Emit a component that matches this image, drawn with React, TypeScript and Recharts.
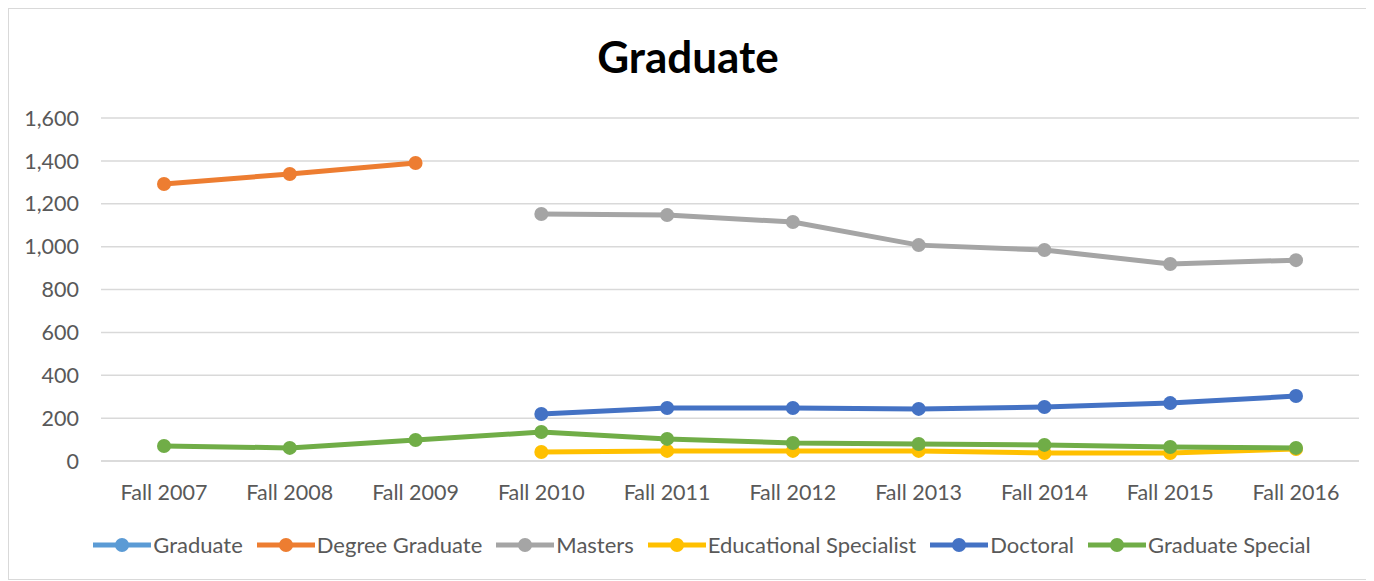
import { LineChart, Line, XAxis, YAxis, CartesianGrid, Legend } from "recharts";

const categories = ["Fall 2007", "Fall 2008", "Fall 2009", "Fall 2010", "Fall 2011", "Fall 2012", "Fall 2013", "Fall 2014", "Fall 2015", "Fall 2016"];

const graduate: (number | null)[] = [null, null, null, null, null, null, null, null, null, null];
const degreeGraduate: (number | null)[] = [1292, 1339, 1390, null, null, null, null, null, null, null];
const masters: (number | null)[] = [null, null, null, 1152, 1147, 1115, 1007, 984, 919, 937];
const educationalSpecialist: (number | null)[] = [null, null, null, 42, 47, 47, 47, 37, 37, 56];
const doctoral: (number | null)[] = [null, null, null, 219, 247, 247, 243, 252, 270, 303];
const graduateSpecial: (number | null)[] = [70, 61, 98, 135, 103, 84, 79, 75, 65, 61];

const yTicks = [0, 200, 400, 600, 800, 1000, 1200, 1400, 1600];

const series = [
  { key: "graduate", name: "Graduate", color: "#5b9bd5" },
  { key: "degreeGraduate", name: "Degree Graduate", color: "#ed7d31" },
  { key: "masters", name: "Masters", color: "#a5a5a5" },
  { key: "educationalSpecialist", name: "Educational Specialist", color: "#ffc000" },
  { key: "doctoral", name: "Doctoral", color: "#4472c4" },
  { key: "graduateSpecial", name: "Graduate Special", color: "#70ad47" },
];

const data = categories.map((name, i) => ({
  name,
  graduate: graduate[i],
  degreeGraduate: degreeGraduate[i],
  masters: masters[i],
  educationalSpecialist: educationalSpecialist[i],
  doctoral: doctoral[i],
  graduateSpecial: graduateSpecial[i],
}));

const FONT = "Lato, 'Open Sans', sans-serif";

function LegendContent() {
  return (
    <div style={{ display: "flex", justifyContent: "center", alignItems: "center", gap: 14, paddingLeft: 28, fontFamily: FONT, fontSize: 22, color: "#595959" }}>
      {series.map((s) => (
        <div key={s.key} style={{ display: "flex", alignItems: "center" }}>
          <svg width={58} height={16} style={{ marginRight: 2 }}>
            <line x1={0} y1={8} x2={58} y2={8} stroke={s.color} strokeWidth={5} />
            <circle cx={29} cy={8} r={7} fill={s.color} />
          </svg>
          <span>{s.name}</span>
        </div>
      ))}
    </div>
  );
}

export default function App() {
  return (
    <div style={{ position: "relative", width: 1358, height: 570, border: "1px solid #d9d9d9", background: "#fff" }}>
      <div style={{ position: "absolute", top: 21, left: 0, width: "100%", textAlign: "center", fontFamily: FONT, fontWeight: 700, fontSize: 44, color: "#000" }}>
        Graduate
      </div>
      <LineChart width={1358} height={570} data={data} margin={{ top: 109, right: 8, bottom: 58, left: 0 }}>
        <CartesianGrid horizontal vertical={false} stroke="#d9d9d9" strokeWidth={1.5} />
        <XAxis
          dataKey="name"
          height={60}
          padding={{ left: 63, right: 63 }}
          tickSize={0}
          tickMargin={24}
          axisLine={{ stroke: "#d9d9d9", strokeWidth: 1.5 }}
          tick={{ fill: "#595959", fontSize: 21.5, fontFamily: FONT }}
          interval={0}
        />
        <YAxis
          width={92}
          domain={[0, 1600]}
          ticks={yTicks}
          tickSize={0}
          tickMargin={22}
          axisLine={false}
          tickFormatter={(v) => v.toLocaleString("en-US")}
          tick={{ fill: "#595959", fontSize: 21.5, fontFamily: FONT }}
        />
        <Legend
          layout="horizontal"
          verticalAlign="middle"
          align="center"
          wrapperStyle={{ top: 522, left: 0, width: 1358 }}
          content={<LegendContent />}
        />
        {series.map((s) => (
          <Line
            key={s.key}
            dataKey={s.key}
            name={s.name}
            stroke={s.color}
            strokeWidth={5}
            dot={{ r: 7, fill: s.color, stroke: s.color, strokeWidth: 0 }}
            activeDot={false}
            isAnimationActive={false}
          />
        ))}
      </LineChart>
    </div>
  );
}
